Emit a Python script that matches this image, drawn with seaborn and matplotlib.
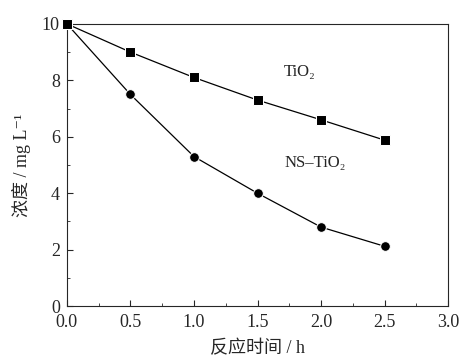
import matplotlib
matplotlib.use("Agg")
import pandas as pd
import seaborn as sns
import matplotlib.pyplot as plt
from matplotlib.ticker import MultipleLocator

time_h = [0.0, 0.5, 1.0, 1.5, 2.0, 2.5]
tio2 = [10.0, 9.0, 8.1, 7.3, 6.6, 5.88]
ns_tio2 = [10.0, 7.5, 5.3, 4.0, 2.8, 2.12]
x_ticks = [0.0, 0.5, 1.0, 1.5, 2.0, 2.5, 3.0]
y_ticks = [0, 2, 4, 6, 8, 10]

df = pd.DataFrame({"t": time_h + time_h,
                   "c": tio2 + ns_tio2,
                   "s": ["TiO2"] * 6 + ["NS-TiO2"] * 6})

sns.set_style("ticks")
plt.rcParams['font.family'] = ['Liberation Serif', 'Noto Sans CJK SC', 'DejaVu Sans']

fig = plt.figure(figsize=(4.64, 3.56), dpi=100)
ax = fig.add_axes([0.144, 0.140, 0.822, 0.793])

# circles first so the square sits on top at (0, 10)
sns.lineplot(data=df, x="t", y="c", hue="s", style="s",
             hue_order=["NS-TiO2", "TiO2"],
             markers={"TiO2": "s", "NS-TiO2": "o"}, dashes=False,
             palette={"TiO2": "black", "NS-TiO2": "black"},
             markersize=7, linewidth=0.9, legend=False, ax=ax)
for ln in ax.lines:
    ln.set_clip_on(False)
    ln.set_zorder(5)

ax.set_xlim(0, 3.0)
ax.set_ylim(0, 10)
ax.set_xticks(x_ticks)
ax.set_xticklabels([f"{v:.1f}" for v in x_ticks])
ax.set_yticks(y_ticks)
ax.set_yticklabels([str(v) for v in y_ticks])
ax.xaxis.set_minor_locator(MultipleLocator(0.25))
ax.yaxis.set_minor_locator(MultipleLocator(1))
ax.tick_params(which="both", direction="in", top=False, right=False, labelsize=13)
ax.tick_params(which="major", length=4)
ax.tick_params(which="minor", length=2.5)
ax.tick_params(axis="x", pad=6)
ax.tick_params(axis="y", pad=5)
for s in ax.spines.values():
    s.set_linewidth(0.8)

ax.set_xlabel("反应时间 / h", fontsize=13, labelpad=6)
ax.set_ylabel("浓度 / mg L⁻¹", fontsize=13, labelpad=8)

ax.text(1.83, 8.3, "TiO₂", fontsize=12, ha="center", va="center")
ax.text(1.95, 5.07, "NS–TiO₂", fontsize=12, ha="center", va="center")

fig.savefig("out.png", dpi=100)
